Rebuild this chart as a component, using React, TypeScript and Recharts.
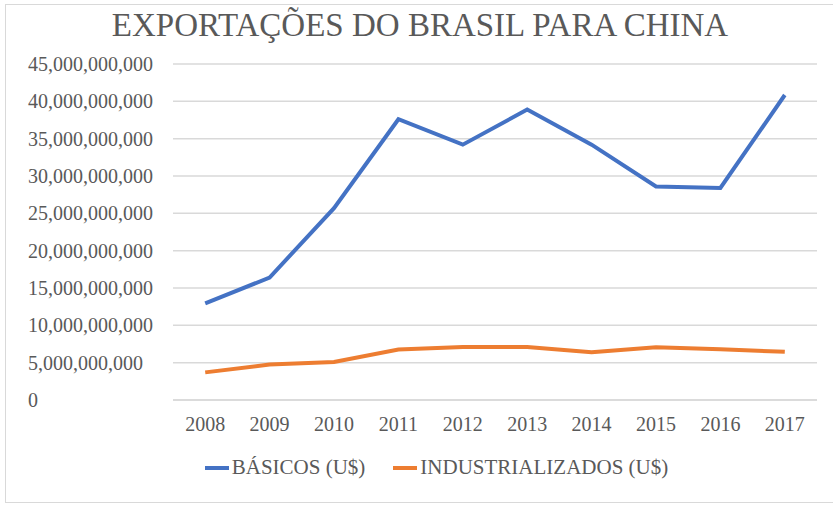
import { LineChart, Line, XAxis, YAxis, CartesianGrid, Legend } from "recharts";

const years = ["2008", "2009", "2010", "2011", "2012", "2013", "2014", "2015", "2016", "2017"];
const basicos = [12.95e9, 16.4e9, 25.7e9, 37.6e9, 34.2e9, 38.9e9, 34.2e9, 28.6e9, 28.4e9, 40.85e9];
const industrializados = [3.7e9, 4.75e9, 5.1e9, 6.75e9, 7.1e9, 7.1e9, 6.4e9, 7.05e9, 6.8e9, 6.45e9];
const yTicks = [0, 5e9, 10e9, 15e9, 20e9, 25e9, 30e9, 35e9, 40e9, 45e9];

const data = years.map((year, i) => ({
  year,
  basicos: basicos[i],
  industrializados: industrializados[i],
}));

const FONT = "'Liberation Serif', 'Times New Roman', serif";
const TEXT = "#595959";
const GRID = "#d9d9d9";

// Excel-style labels: left aligned against the chart edge
function YTick(props: any) {
  const { y, payload } = props;
  return (
    <text x={28} y={y} textAnchor="start" dominantBaseline="central" fill={TEXT} fontSize={20} fontFamily={FONT}>
      {Number(payload.value).toLocaleString("en-US")}
    </text>
  );
}

function LegendContent(props: any) {
  const { payload = [] } = props;
  return (
    <div style={{ display: "flex", justifyContent: "center", alignItems: "center", fontFamily: FONT, fontSize: 21, color: TEXT }}>
      {payload.map((entry: any) => (
        <div key={entry.value} style={{ display: "flex", alignItems: "center", margin: "0 14px" }}>
          <svg width={24} height={10} style={{ marginRight: 3 }}>
            <line x1={0} y1={5} x2={24} y2={5} stroke={entry.color} strokeWidth={4} />
          </svg>
          <span>{entry.value}</span>
        </div>
      ))}
    </div>
  );
}

export default function App() {
  return (
    <div style={{ position: "absolute", left: 0, top: 0, width: 833, height: 506, background: "#fff", fontFamily: FONT }}>
      <div
        style={{
          position: "absolute",
          left: 5,
          top: 4,
          width: 830,
          height: 499,
          border: `1px solid ${GRID}`,
          boxSizing: "border-box",
        }}
      />
      <div
        style={{
          position: "absolute",
          left: 0,
          width: 840,
          top: 5,
          textAlign: "center",
          fontSize: 33,
          color: TEXT,
          lineHeight: "40px",
        }}
      >
        EXPORTAÇÕES DO BRASIL PARA CHINA
      </div>
      <LineChart
        width={833}
        height={506}
        data={data}
        margin={{ top: 64, right: 16, left: 0, bottom: 36 }}
        style={{ position: "absolute", left: 0, top: 0 }}
      >
        <CartesianGrid vertical={false} stroke={GRID} strokeWidth={1.5} />
        <XAxis
          dataKey="year"
          scale="band"
          axisLine={{ stroke: GRID, strokeWidth: 1.5 }}
          tickLine={false}
          tickMargin={11}
          height={40}
          tick={{ fill: TEXT, fontSize: 20, fontFamily: FONT }}
        />
        <YAxis
          width={173}
          domain={[0, 45e9]}
          ticks={yTicks}
          axisLine={false}
          tickLine={false}
          tick={<YTick />}
        />
        <Legend
          verticalAlign="bottom"
          height={30}
          content={<LegendContent />}
          wrapperStyle={{ top: 455, left: 28 }}
        />
        <Line
          type="linear"
          dataKey="basicos"
          name="BÁSICOS (U$)"
          stroke="#4472C4"
          strokeWidth={4}
          dot={false}
          isAnimationActive={false}
        />
        <Line
          type="linear"
          dataKey="industrializados"
          name="INDUSTRIALIZADOS (U$)"
          stroke="#ED7D31"
          strokeWidth={4}
          dot={false}
          isAnimationActive={false}
        />
      </LineChart>
    </div>
  );
}
